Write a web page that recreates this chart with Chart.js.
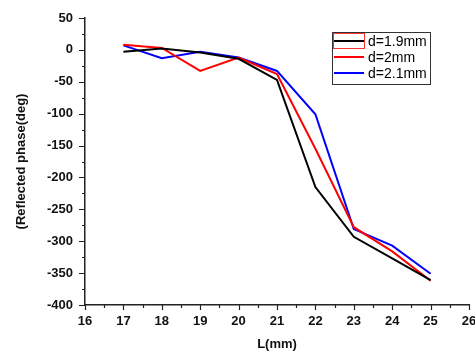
<!DOCTYPE html>
<html>
<head>
<meta charset="utf-8">
<script src="https://cdn.jsdelivr.net/npm/chart.js@4/dist/chart.umd.min.js"></script>
<style>
  html, body { margin: 0; padding: 0; background: #fff; }
</style>
</head>
<body>
<canvas id="phase-chart" width="475" height="356"></canvas>
<script>
const lengths = [17, 18, 19, 20, 21, 22, 23, 24, 25];
const phase19 = [-3, 2, -4, -14, -47, -215, -293, -327, -361];
const phase20 = [8, 3, -33, -12, -38, -155, -278, -316, -362];
const phase21 = [7, -13, -3, -12, -33, -101, -281, -307, -351];
const seriesLabels = ['d=1.9mm', 'd=2mm', 'd=2.1mm'];
const seriesColors = ['#000000', '#ff0000', '#0000ff'];

const toPoints = (vals) => vals.map((v, i) => ({ x: lengths[i], y: v }));

// minor/major tick marks outside the axes
const tickMarks = {
  id: 'tickMarks',
  afterDraw(chart) {
    const ctx = chart.ctx;
    const area = chart.chartArea;
    const xs = chart.scales.x;
    const ys = chart.scales.y;
    ctx.save();
    ctx.strokeStyle = '#222';
    ctx.lineWidth = 1.2;
    ctx.beginPath();
    xs.ticks.forEach((t) => {
      const px = Math.round(xs.getPixelForValue(t.value)) + 0.5;
      const len = Number.isInteger(t.value) ? 5 : 3;
      ctx.moveTo(px, area.bottom);
      ctx.lineTo(px, area.bottom + len);
    });
    ys.ticks.forEach((t) => {
      const py = Math.round(ys.getPixelForValue(t.value)) + 0.5;
      const len = t.value % 50 === 0 ? 6 : 3;
      ctx.moveTo(area.left, py);
      ctx.lineTo(area.left - len, py);
    });
    ctx.stroke();
    ctx.restore();
  }
};

// boxed legend inside the plot, top right
const boxLegend = {
  id: 'boxLegend',
  afterDraw(chart) {
    const ctx = chart.ctx;
    const bx = 332, by = 32, bw = 98, bh = 52;
    ctx.save();
    ctx.strokeStyle = '#333';
    ctx.lineWidth = 1;
    ctx.strokeRect(bx + 0.5, by + 0.5, bw, bh);
    ctx.font = '14px "Liberation Sans", Arial, sans-serif';
    ctx.textBaseline = 'middle';
    chart.data.datasets.forEach((ds, i) => {
      const y = by + 9 + i * 16;
      ctx.strokeStyle = ds.borderColor;
      ctx.lineWidth = 2;
      ctx.beginPath();
      ctx.moveTo(bx + 2, y);
      ctx.lineTo(bx + 32, y);
      ctx.stroke();
      ctx.fillStyle = '#000';
      ctx.fillText(ds.label, bx + 36, y + 1);
    });
    // selection frame around the first sample
    ctx.strokeStyle = '#ff3030';
    ctx.lineWidth = 1;
    ctx.strokeRect(bx + 1.5, by + 1.5, 31, 15);
    ctx.restore();
  }
};

const tickFont = { family: '"Liberation Sans", Arial, sans-serif', size: 13, weight: 'bold' };

const chart = new Chart(document.getElementById('phase-chart'), {
  type: 'line',
  data: {
    datasets: [phase19, phase20, phase21].map((vals, i) => ({
      label: seriesLabels[i],
      data: toPoints(vals),
      borderColor: seriesColors[i],
      backgroundColor: seriesColors[i],
      borderWidth: 2,
      pointRadius: 0,
      tension: 0,
      fill: false
    }))
  },
  options: {
    responsive: false,
    animation: false,
    layout: { padding: { top: 18, right: 6, left: 0, bottom: 0 } },
    plugins: {
      legend: { display: false },
      tooltip: { enabled: false }
    },
    scales: {
      x: {
        type: 'linear',
        min: 16,
        max: 26,
        grid: { display: false, drawTicks: false },
        border: { display: true, color: '#222', width: 1.5 },
        ticks: {
          stepSize: 0.5,
          autoSkip: false,
          maxRotation: 0,
          padding: 9,
          color: '#111',
          font: tickFont,
          callback: (v) => (Number.isInteger(v) ? v : '')
        },
        title: {
          display: true,
          text: 'L(mm)',
          color: '#111',
          font: tickFont,
          padding: { top: 0, bottom: 4 }
        },
        afterFit(scale) {
          scale.height = 51;
          scale.paddingLeft = 0;
          scale.paddingRight = 0;
        }
      },
      y: {
        min: -400,
        max: 50,
        grid: { display: false, drawTicks: false },
        border: { display: true, color: '#222', width: 1.5 },
        ticks: {
          stepSize: 25,
          autoSkip: false,
          padding: 12,
          color: '#111',
          font: tickFont,
          callback: (v) => (v % 50 === 0 ? v : '')
        },
        title: {
          display: true,
          text: '(Reflected phase(deg)',
          color: '#111',
          font: tickFont,
          padding: { top: 14, bottom: 0 }
        },
        afterFit(scale) {
          scale.width = 85;
          scale.paddingTop = 0;
          scale.paddingBottom = 0;
        }
      }
    }
  },
  plugins: [tickMarks, boxLegend]
});
</script>
</body>
</html>
